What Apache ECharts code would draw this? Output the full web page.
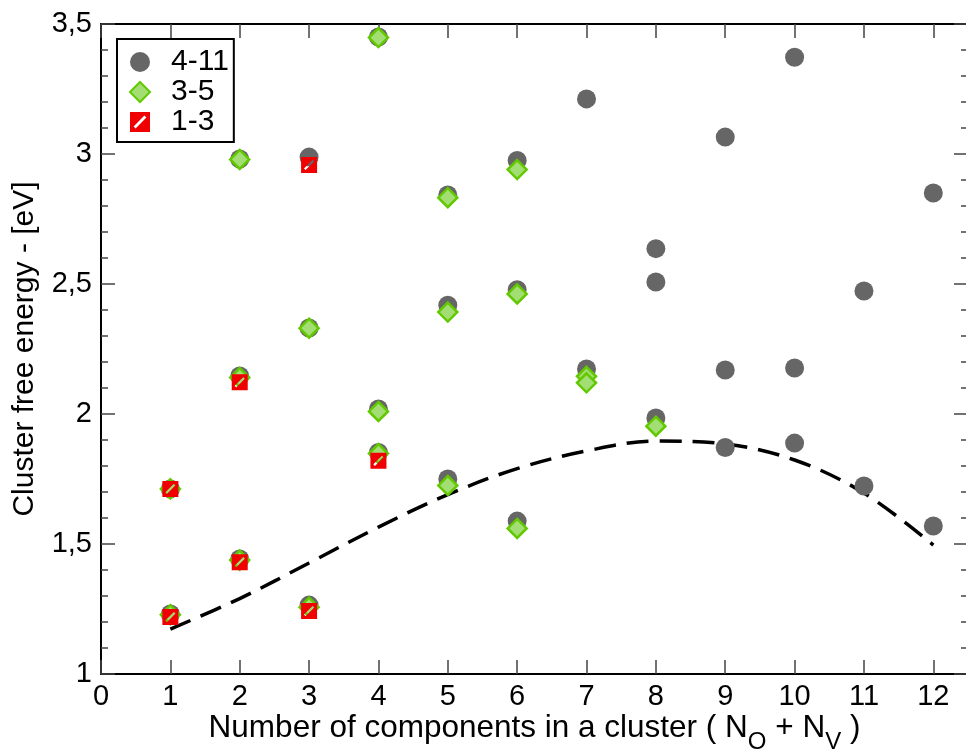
<!DOCTYPE html>
<html><head><meta charset="utf-8">
<script src="https://cdn.jsdelivr.net/npm/echarts@6/dist/echarts.min.js"></script>
<style>html,body{margin:0;padding:0;background:#fff}#c{width:966px;height:750px}</style>
</head><body><div id="c"></div>
<script>
// x categories (number of components)
var xTicks = [0,1,2,3,4,5,6,7,8,9,10,11,12];
var yTicks = [1, 1.5, 2, 2.5, 3, 3.5];

// series "4-11" (gray circles): [x, energy]
var s411x = [1,1, 2,2,2, 3,3,3, 4,4,4, 5,5,5, 6,6,6, 7,7, 8,8,8, 9,9,9, 10,10,10, 11,11, 12,12];
var s411y = [1.712,1.231, 2.981,2.146,1.442, 2.988,2.331,1.265, 3.45,2.019,1.852, 2.842,2.418,1.75, 2.975,2.478,1.588, 3.212,2.173, 2.636,2.508,1.985, 3.065,2.169,1.871, 3.372,2.177,1.888, 2.473,1.723, 2.85,1.569];

// series "3-5" (green diamonds)
var s35x = [1,1, 2,2,2, 3,3, 4,4,4, 5,5,5, 6,6,6, 7,7, 8];
var s35y = [1.712,1.228, 2.979,2.14,1.438, 2.33,1.257, 3.448,2.01,1.848, 2.832,2.392,1.725, 2.94,2.462,1.56, 2.145,2.12, 1.953];

// series "1-3" (red squares)
var s13x = [1,1, 2,2, 3,3, 4];
var s13y = [1.712,1.219, 2.122,1.43, 2.958,1.242, 1.82];

// dashed fit curve
var fitX = [1,2,3,4,5,6,7,8,9,10,11,12];
var fitY = [1.173,1.29,1.427,1.565,1.69,1.79,1.858,1.896,1.885,1.823,1.696,1.496];

function zip(a,b){return a.map(function(v,i){return [v,b[i]];});}
var sqPath = 'path://M0,0L10,0L10,10L0,10Z M1.8,7.2L2.8,8.2L8.2,2.8L7.2,1.8Z';

var chart = echarts.init(document.getElementById('c'), null, {renderer:'canvas'});
var font = 'Liberation Sans, Arial, sans-serif';
var tickStyle = {color:'#444', width:1.5};
chart.setOption({
  animation:false,
  textStyle:{fontFamily:font},
  grid:{left:101, top:24, right:-2, bottom:76, containLabel:false, outerBoundsMode:'none'},
  legend:{
    orient:'vertical', left:117, top:39,
    backgroundColor:'#fff', borderColor:'#000', borderWidth:2, borderRadius:0,
    padding:[8,5,5,12], itemGap:0, itemWidth:20, itemHeight:20,
    textStyle:{fontSize:30, lineHeight:30, color:'#000', fontFamily:font, padding:[0,0,0,16]},
    data:[
      {name:'4-11', icon:'circle'},
      {name:'3-5', icon:'diamond'},
      {name:'1-3', icon:sqPath}
    ]
  },
  xAxis:[{
    type:'value', min:0, max:12.5, interval:1,
    name:'{n|Number of components in a cluster ( N}{s|O}{n| + N}{s|V}{n| )}',
    nameLocation:'middle', nameGap:38, nameMoveOverlap:false,
    nameTextStyle:{rich:{
      n:{fontSize:31.5, color:'#000', fontFamily:font, verticalAlign:'top', lineHeight:30},
      s:{fontSize:24, color:'#000', fontFamily:font, verticalAlign:'bottom', lineHeight:42}
    }},
    axisLine:{show:true, onZero:false, lineStyle:{color:'#000', width:2}},
    axisTick:{show:true, inside:true, length:14, lineStyle:tickStyle},
    axisLabel:{fontSize:29, color:'#000', margin:8, fontFamily:font,
      formatter:function(v){return xTicks.indexOf(v)>=0 ? String(v) : '';}},
    splitLine:{show:false}
  },{
    type:'value', position:'top', min:0, max:12.5, interval:1,
    axisLine:{show:true, onZero:false, lineStyle:{color:'#000', width:2}},
    axisTick:{show:true, inside:true, length:14, lineStyle:tickStyle},
    axisLabel:{show:false}, splitLine:{show:false}
  }],
  yAxis:[{
    type:'value', min:1, max:3.5, interval:0.5,
    name:'Cluster free energy - [eV]', nameLocation:'middle', nameGap:61, nameMoveOverlap:false,
    nameTextStyle:{fontSize:30, color:'#000', fontFamily:font},
    axisLine:{show:true, onZero:false, lineStyle:{color:'#000', width:2}},
    axisTick:{show:true, inside:true, length:14, lineStyle:tickStyle},
    minorTick:{show:true, splitNumber:5, length:7, lineStyle:tickStyle},
    axisLabel:{fontSize:29, color:'#000', margin:9, fontFamily:font,
      formatter:function(v){return String(v).replace('.', ',');}},
    splitLine:{show:false}
  },{
    type:'value', position:'right', min:1, max:3.5, interval:0.5,
    axisLine:{show:true, onZero:false, lineStyle:{color:'#000', width:2}},
    axisTick:{show:true, inside:true, length:14, lineStyle:tickStyle},
    minorTick:{show:true, splitNumber:5, length:7, lineStyle:tickStyle},
    axisLabel:{show:false}, splitLine:{show:false}
  }],
  series:[
    {name:'fit', type:'line', data:zip(fitX,fitY), showSymbol:false, symbol:'none', smooth:0.35,
     lineStyle:{color:'#000', width:3.5, type:[22,11]}, z:1, silent:true},
    {name:'4-11', type:'scatter', data:zip(s411x,s411y), symbol:'circle', symbolSize:19,
     itemStyle:{color:'#666666', opacity:1}, z:2},
    {name:'3-5', type:'scatter', data:zip(s35x,s35y), symbol:'diamond', symbolSize:19,
     itemStyle:{color:'#a3de74', borderColor:'#62c800', borderWidth:2.5, opacity:1}, z:3},
    {name:'1-3', type:'scatter', data:zip(s13x,s13y), symbol:sqPath, symbolSize:16,
     itemStyle:{color:'#f00000', opacity:1}, z:4}
  ]
});
</script></body></html>
